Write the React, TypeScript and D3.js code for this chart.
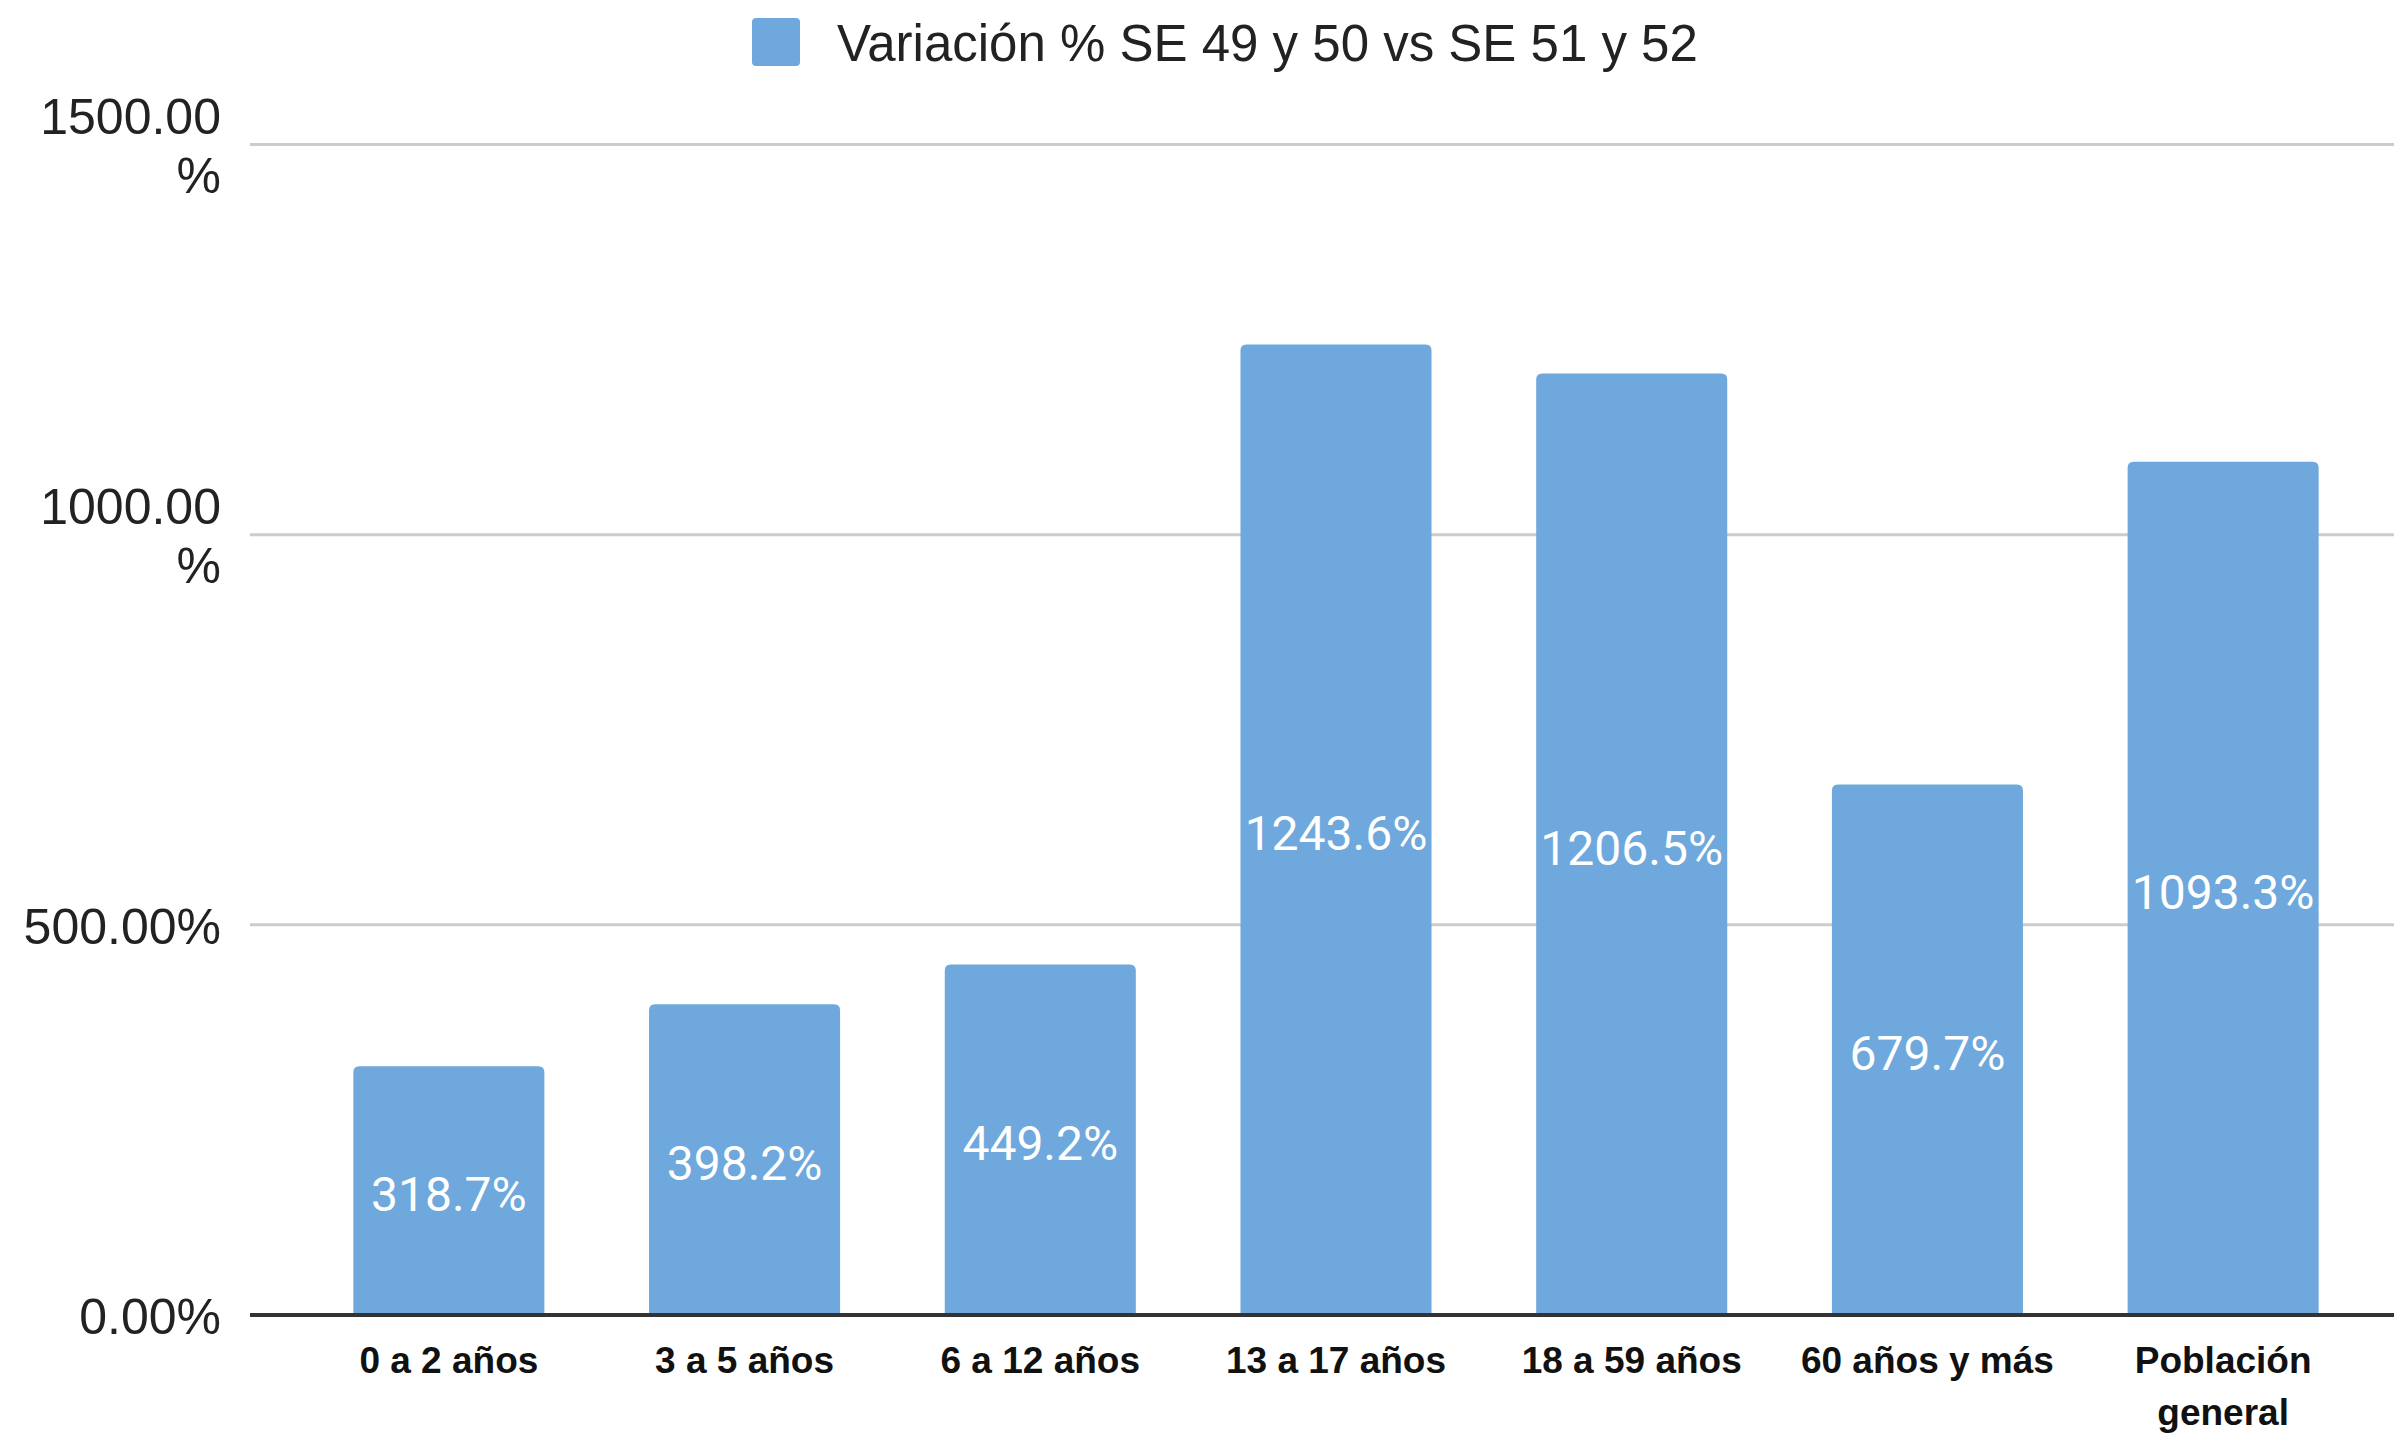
import React from "react";
import * as d3 from "d3";

const categories = ["0 a 2 años", "3 a 5 años", "6 a 12 años", "13 a 17 años", "18 a 59 años", "60 años y más", "Población general"];
const values = [318.7, 398.2, 449.2, 1243.6, 1206.5, 679.7, 1093.3];
const yTicks = [0, 500, 1000, 1500];
const seriesName = "Variación % SE 49 y 50 vs SE 51 y 52";

const W = 2394, H = 1434;
const BAR = "#6fa8dc";

export default function App() {
  const x = d3.scaleBand<string>().domain(categories).range([301, 2371]).paddingInner(0.354).paddingOuter(0.177);
  const y = d3.scaleLinear().domain([0, 1500]).range([1315, 144.5]);
  const gridX0 = 250, gridX1 = W;
  const r = 6;

  const barPath = (x0: number, w: number, yTop: number, yBot: number) => {
    const p = d3.path();
    p.moveTo(x0, yBot);
    p.lineTo(x0, yTop + r);
    p.quadraticCurveTo(x0, yTop, x0 + r, yTop);
    p.lineTo(x0 + w - r, yTop);
    p.quadraticCurveTo(x0 + w, yTop, x0 + w, yTop + r);
    p.lineTo(x0 + w, yBot);
    p.closePath();
    return p.toString();
  };

  const tickLines = (v: number) => {
    const s = v.toFixed(2) + "%";
    if (s.length > 7) return [v.toFixed(2), "%"];
    return [s];
  };

  const wrapCat = (c: string) => (c === "Población general" ? ["Población", "general"] : [c]);

  return (
    <div style={{ position: "fixed", left: 0, top: 0 }}>
      <svg width={W} height={H} style={{ display: "block", background: "#fff" }}>
        {/* legend */}
        <rect x={752} y={18} width={48} height={48} rx={4} fill={BAR} />
        <text x={837} y={43} dominantBaseline="central" fontFamily="Liberation Sans, Arial, sans-serif" fontSize={51} fill="#222">
          {seriesName}
        </text>

        {/* gridlines */}
        {yTicks.filter((t) => t !== 0).map((t) => (
          <line key={t} x1={gridX0} x2={gridX1} y1={y(t)} y2={y(t)} stroke="#cccccc" strokeWidth={3} />
        ))}

        {/* y tick labels */}
        {yTicks.map((t) => {
          const lines = tickLines(t);
          const lh = 59;
          const start = y(t) + 2 - ((lines.length - 1) * lh) / 2;
          return (
            <text key={t} textAnchor="end" fontFamily="Liberation Sans, Arial, sans-serif" fontSize={50} fill="#222">
              {lines.map((l, i) => (
                <tspan key={i} x={221} y={start + i * lh} dominantBaseline="central">{l}</tspan>
              ))}
            </text>
          );
        })}

        {/* bars */}
        {categories.map((c, i) => (
          <path key={c} d={barPath(x(c)!, x.bandwidth(), y(values[i]), y(0))} fill={BAR} />
        ))}

        {/* baseline */}
        <line x1={gridX0} x2={gridX1} y1={y(0)} y2={y(0)} stroke="#333" strokeWidth={4} />

        {/* value labels */}
        {categories.map((c, i) => (
          <text key={c} x={x(c)! + x.bandwidth() / 2} y={(y(values[i]) + y(0)) / 2 + 4} textAnchor="middle" dominantBaseline="central"
            fontFamily="Roboto, sans-serif" fontSize={48} fill="#ffffff">
            {values[i].toFixed(1) + "%"}
          </text>
        ))}

        {/* x labels */}
        {categories.map((c) => (
          <text key={c} textAnchor="middle" fontFamily="Liberation Sans, Arial, sans-serif" fontWeight="bold" fontSize={37} fill="#111">
            {wrapCat(c).map((l, i) => (
              <tspan key={i} x={x(c)! + x.bandwidth() / 2} y={1360 + i * 52} dominantBaseline="central">{l}</tspan>
            ))}
          </text>
        ))}
      </svg>
    </div>
  );
}
